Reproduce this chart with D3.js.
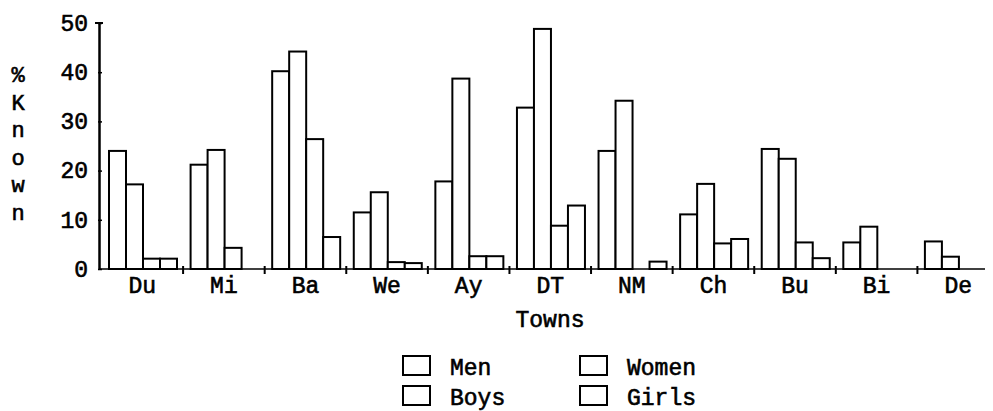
<!DOCTYPE html>
<html>
<head>
<meta charset="utf-8">
<script src="https://cdn.jsdelivr.net/npm/d3@7"></script>
<style>
html,body{margin:0;padding:0;background:#fff;}
svg text{font-family:"Liberation Mono","Courier New",monospace;fill:#000;stroke:#000;stroke-width:0.6px;}
</style>
</head>
<body>
<svg id="chart" width="993" height="411"></svg>
<script>
const towns = ["Du","Mi","Ba","We","Ay","DT","NM","Ch","Bu","Bi","De"];
const seriesNames = ["Men","Women","Boys","Girls"];
const men   = [24, 21.2, 40.2, 11.5, 17.8, 32.8, 24, 11.1, 24.4, 5.4, 5.6];
const women = [17.2, 24.2, 44.2, 15.6, 38.7, 48.8, 34.2, 17.3, 22.4, 8.6, 2.5];
const boys  = [2.1, 4.3, 26.4, 1.4, 2.6, 8.8, 0, 5.2, 5.4, 0, 0];
const girls = [2.1, 0, 6.5, 1.2, 2.6, 12.9, 1.5, 6.1, 2.2, 0, 0];
const yTicks = [0, 10, 20, 30, 40, 50];
const yLabelChars = ["%","K","n","o","w","n"];

const series = [men, women, boys, girls];
const svg = d3.select("#chart");

const x0 = d3.scaleBand().domain(towns).range([101.5, 999]).paddingInner(0).paddingOuter(0);
const x1 = d3.scaleBand().domain(seriesNames).range([7.5, 75.5]).padding(0);
const y = d3.scaleLinear().domain([0, 50]).range([269, 23]);

const fs = 23;

// bars
const g = svg.append("g");
towns.forEach((t, i) => {
  const gg = g.append("g").attr("transform", `translate(${x0(t)},0)`);
  seriesNames.forEach((s, j) => {
    const v = series[j][i];
    if (v <= 0) return;
    gg.append("rect")
      .attr("x", x1(s))
      .attr("y", y(v))
      .attr("width", x1.bandwidth())
      .attr("height", y(0) - y(v))
      .attr("fill", "#fff")
      .attr("stroke", "#000")
      .attr("stroke-width", 2);
  });
});

// x axis
svg.append("line").attr("x1", 99).attr("x2", 985).attr("y1", y(0)).attr("y2", y(0))
  .attr("stroke", "#000").attr("stroke-width", 1.6);
towns.slice(1).forEach(t => {
  svg.append("line").attr("x1", x0(t)).attr("x2", x0(t))
    .attr("y1", y(0) - 3).attr("y2", y(0) + 5)
    .attr("stroke", "#000").attr("stroke-width", 2);
});
svg.append("g").selectAll("text").data(towns).join("text")
  .attr("x", d => x0(d) + x0.bandwidth() / 2)
  .attr("y", 293)
  .attr("text-anchor", "middle")
  .attr("font-size", fs)
  .text(d => d);

// y axis
const yAxis = d3.axisLeft(y).tickValues(yTicks).tickSize(0).tickPadding(11);
const ya = svg.append("g").attr("transform", "translate(99,0)").call(yAxis);
ya.select(".domain").attr("stroke", "#000").attr("stroke-width", 2.5);
ya.selectAll(".tick text").attr("font-size", fs).attr("font-family", '"Liberation Mono","Courier New",monospace').attr("fill", "#000");
ya.selectAll(".tick").append("line").attr("x1", -1).attr("x2", 3).attr("stroke", "#000").attr("stroke-width", 1.5);
ya.append("line").attr("x1", -4).attr("x2", 4).attr("y1", y(50)).attr("y2", y(50)).attr("stroke", "#000").attr("stroke-width", 2);

// y label stacked
svg.append("g").selectAll("text").data(yLabelChars).join("text")
  .attr("x", 18)
  .attr("y", (d, i) => 82 + i * 27.6)
  .attr("text-anchor", "middle")
  .attr("font-size", 22)
  .text(d => d);

// x title
svg.append("text").attr("x", 550).attr("y", 327).attr("text-anchor", "middle")
  .attr("font-size", fs).text("Towns");

// legend
const legendPos = [
  {bx: 403, tx: 450, y: 375},
  {bx: 580, tx: 627, y: 375},
  {bx: 403, tx: 450, y: 405},
  {bx: 580, tx: 627, y: 405}
];
const legendOrder = ["Men","Women","Boys","Girls"];
legendOrder.forEach((s, i) => {
  const p = legendPos[i];
  svg.append("rect").attr("x", p.bx).attr("y", p.y - 19).attr("width", 27).attr("height", 19)
    .attr("fill", "#fff").attr("stroke", "#000").attr("stroke-width", 2);
  svg.append("text").attr("x", p.tx).attr("y", p.y).attr("font-size", fs).text(s);
});
</script>
</body>
</html>
